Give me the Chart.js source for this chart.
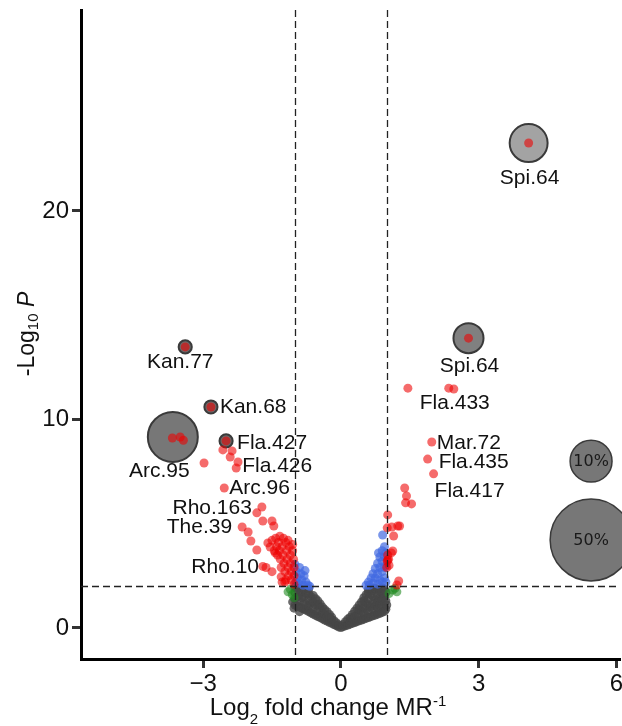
<!DOCTYPE html>
<html>
<head>
<meta charset="utf-8">
<script src="https://cdn.jsdelivr.net/npm/chart.js@4.4.1/dist/chart.umd.min.js"></script>
<style>
  html, body { margin: 0; padding: 0; background: #fff; }
  canvas { display: block; }
</style>
</head>
<body>
<canvas id="volcano" width="622" height="726"></canvas>
<script>
// axis ticks and cut-offs
const xTicks = [-3, 0, 3, 6];
const yTicks = [0, 10, 20];
const fcCut = [-1, 1];
const pCut = 2;

// not significant (grey)
const nsPoints = [
  [-1.02,0.95],[-0.9,0.78],[-1.05,1.25],
  [-1.0,1.1],[-1.0,1.4],[-1.0,1.7],[-1.0,1.95],
  [-0.95,1.05],[-0.95,1.5],[-0.95,1.85],
  [-0.9,1.0],[-0.9,1.3],[-0.9,1.6],[-0.9,1.9],
  [-0.85,0.95],[-0.85,1.45],[-0.85,1.75],
  [-0.8,0.9],[-0.8,1.2],[-0.8,1.5],[-0.8,1.85],
  [-0.75,0.85],[-0.75,1.1],[-0.75,1.65],
  [-0.7,0.78],[-0.7,1.05],[-0.7,1.35],[-0.7,1.65],[-0.7,1.88],
  [-0.65,0.72],[-0.65,1.2],[-0.65,1.5],
  [-0.6,0.66],[-0.6,0.95],[-0.6,1.25],[-0.6,1.55],
  [-0.55,0.6],[-0.55,1.1],[-0.55,1.4],
  [-0.5,0.55],[-0.5,0.85],[-0.5,1.1],[-0.5,1.3],
  [-0.45,0.5],[-0.45,0.95],[-0.45,1.15],
  [-0.4,0.44],[-0.4,0.7],[-0.4,1.0],
  [-0.35,0.38],[-0.35,0.65],[-0.35,0.88],
  [-0.3,0.33],[-0.3,0.55],[-0.3,0.78],
  [-0.25,0.27],[-0.25,0.5],[-0.25,0.65],
  [-0.2,0.22],[-0.2,0.4],[-0.2,0.52],
  [-0.15,0.16],[-0.15,0.35],
  [-0.1,0.11],[-0.1,0.25],
  [-0.05,0.05],[-0.05,0.15],
  [0.0,0.02],
  [0.05,0.06],[0.05,0.17],
  [0.1,0.1],[0.1,0.3],
  [0.15,0.14],[0.15,0.42],
  [0.2,0.18],[0.2,0.35],[0.2,0.5],
  [0.25,0.22],[0.25,0.45],[0.25,0.65],
  [0.3,0.26],[0.3,0.55],[0.3,0.8],
  [0.35,0.3],[0.35,0.62],[0.35,0.95],
  [0.4,0.34],[0.4,0.62],[0.4,0.9],[0.4,1.1],
  [0.45,0.38],[0.45,0.8],[0.45,1.25],
  [0.5,0.42],[0.5,0.7],[0.5,1.0],[0.5,1.3],[0.5,1.45],
  [0.55,0.46],[0.55,0.9],[0.55,1.2],[0.55,1.6],
  [0.6,0.5],[0.6,0.8],[0.6,1.1],[0.6,1.4],[0.6,1.7],[0.6,1.85],
  [0.65,0.54],[0.65,1.0],[0.65,1.6],[0.65,1.92],
  [0.7,0.58],[0.7,0.9],[0.7,1.2],[0.7,1.5],[0.7,1.8],
  [0.75,0.62],[0.75,1.05],[0.75,1.35],[0.75,1.9],
  [0.8,0.66],[0.8,0.95],[0.8,1.25],[0.8,1.55],[0.8,1.85],
  [0.85,0.7],[0.85,1.1],[0.85,1.45],[0.85,1.75],
  [0.9,0.75],[0.9,1.05],[0.9,1.35],[0.9,1.65],[0.9,1.92],
  [0.95,0.8],[0.95,1.2],[0.95,1.55],[0.95,1.85],
  [0.98,0.9],[0.98,1.3],[0.98,1.7],[1.0,1.1]
];

// p-value only (blue)
const pOnlyPoints = [
  [-1.0,3.05],[-0.97,2.7],[-0.95,2.4],[-0.92,2.15],[-0.9,2.9],[-0.87,2.6],
  [-0.85,2.3],[-0.82,2.05],[-0.8,2.5],[-0.76,2.2],[-0.72,2.05],[-0.68,2.0],
  [-0.78,2.75],[-0.98,2.2],
  [0.55,2.05],[0.6,2.2],[0.62,2.05],[0.66,2.4],[0.7,2.6],[0.7,2.15],
  [0.75,2.85],[0.75,2.4],[0.8,3.1],[0.8,2.6],[0.8,2.1],[0.85,3.4],
  [0.85,2.9],[0.85,2.3],[0.9,3.7],[0.9,3.2],[0.9,2.7],[0.9,2.2],
  [0.95,3.9],[0.95,3.4],[0.95,2.9],[0.95,2.4],[0.98,3.6],[0.98,3.0],
  [0.98,2.2],[0.91,4.46],[0.82,3.6]
];

// fold change only (green)
const fcOnlyPoints = [
  [-1.15,1.73],[-1.06,1.6],[-1.1,1.85],[-1.02,1.45],
  [1.13,1.82],[1.22,1.73],[1.18,1.9],[1.05,1.65]
];

// both (red)
const bothPoints = [
  [-3.39,13.48],[-2.83,10.6],[-2.5,8.97],[-3.67,9.11],[-3.5,9.16],[-3.43,9.0],
  [-2.98,7.91],[-2.57,8.54],[-2.37,8.49],[-2.41,8.2],[-2.24,7.96],[-2.28,7.67],
  [-2.54,6.71],[-1.72,5.8],[-1.83,5.52],[-1.70,5.13],[-1.5,5.13],[-1.46,4.89],
  [-2.15,4.84],[-2.02,4.6],[-1.96,4.17],[-1.83,3.74],[-1.59,4.08],[-1.54,3.88],
  [-1.43,3.6],[-1.7,2.95],[-1.63,2.9],[-1.5,2.7],[-1.28,2.2],
  [-1.02,2.1],[-1.02,2.5],[-1.02,2.9],[-1.03,3.3],[-1.05,3.7],[-1.08,2.3],
  [-1.08,2.7],[-1.1,3.1],[-1.1,3.5],[-1.12,3.9],[-1.14,2.5],[-1.15,2.9],
  [-1.17,3.3],[-1.18,3.7],[-1.2,4.1],[-1.2,2.3],[-1.22,2.7],[-1.24,3.1],
  [-1.26,3.5],[-1.28,3.9],[-1.3,2.9],[-1.32,3.3],[-1.34,3.7],[-1.36,4.1],
  [-1.38,3.5],[-1.4,3.9],[-1.05,4.0],[-1.15,4.2],[-1.25,4.3],[-1.3,2.45],
  [-1.22,2.2],[-1.45,3.7],[-1.42,4.3],[-1.33,4.4],[-1.5,4.2],
  [1.46,11.5],[2.35,11.5],[2.46,11.46],[1.98,8.92],[1.89,8.1],[2.02,7.39],
  [1.39,6.71],[1.43,6.33],[1.41,6.0],[1.54,5.95],[1.02,5.42],[1.01,4.8],
  [1.11,4.84],[1.28,4.89],[1.24,4.89],[1.15,4.41],[1.13,3.69],[1.02,3.26],
  [1.26,2.25],[1.22,2.06],[1.0,2.9],[1.01,3.2],[1.02,3.5],[1.05,3.0],
  [1.04,3.3],[1.1,3.6],[2.78,13.9],[4.09,23.26]
];

// relative abundance bubbles (x, y, percent)
const abundance = [
  [4.09,23.26,7.7],[2.78,13.9,4.0],[-3.39,13.48,0.12],
  [-2.83,10.6,0.12],[-2.5,8.97,0.12],[-3.66,9.16,15.6]
];
const legendPct = [10, 50];
const legendAt = [[5.45,8.0],[5.45,4.22]];

// point labels
const labelNames = ['Spi.64','Spi.64','Kan.77','Kan.68','Fla.427','Fla.426','Arc.95',
  'Arc.96','Rho.163','The.39','Rho.10','Fla.433','Mar.72','Fla.435','Fla.417'];
const labelAt = [[4.09,23.26],[2.78,13.9],[-3.39,13.48],[-2.83,10.6],[-2.5,8.97],
  [-2.28,7.67],[-3.67,9.11],[-2.54,6.71],[-1.72,5.8],[-2.15,4.84],[-1.63,2.9],
  [2.35,11.5],[1.98,8.92],[1.89,8.1],[2.02,7.39]];

// --- drawing ---
const FONT = '"Liberation Sans", Arial, sans-serif';
const radius = p => 4.8 + 5.11 * Math.sqrt(p);
const toXY = arr => arr.map(d => ({ x: d[0], y: d[1] }));

// dx, dy (px) and alignment for each label
const labelPlace = [
  [1,35,'center'],[1,28,'center'],[-5,15,'center'],[9,0,'left'],[11,2,'left'],
  [6,-2,'left'],[-13,33,'center'],[5,0,'left'],[-10,1,'right'],[-10,0,'right'],
  [-7,0,'right'],[6,15,'center'],[5,1,'left'],[11,3,'left'],[1,17,'left']
];
const bubbleFill = ['#a3a3a3','#808080','#6a6a6a','#6a6a6a','#6a6a6a','#777777'];

const cutLines = {
  id: 'cutLines',
  afterDatasetsDraw(chart) {
    const { ctx, chartArea: a, scales: { x, y } } = chart;
    ctx.save();
    ctx.strokeStyle = '#222';
    ctx.lineWidth = 1.3;
    ctx.setLineDash([7, 4]);
    fcCut.forEach(v => {
      const px = Math.round(x.getPixelForValue(v)) + 0.5;
      ctx.beginPath(); ctx.moveTo(px, a.top); ctx.lineTo(px, a.bottom); ctx.stroke();
    });
    const py = Math.round(y.getPixelForValue(pCut)) + 0.5;
    ctx.beginPath(); ctx.moveTo(a.left, py); ctx.lineTo(a.right, py); ctx.stroke();
    ctx.restore();
  }
};

function drawRuns(ctx, runs, x, y) {
  runs.forEach(r => {
    ctx.font = (r.italic ? 'italic ' : '') + r.size + 'px ' + FONT;
    ctx.fillText(r.t, x, y + (r.dy || 0));
    x += ctx.measureText(r.t).width;
  });
}
function runsWidth(ctx, runs) {
  let w = 0;
  runs.forEach(r => {
    ctx.font = (r.italic ? 'italic ' : '') + r.size + 'px ' + FONT;
    w += ctx.measureText(r.t).width;
  });
  return w;
}

const textLayer = {
  id: 'textLayer',
  afterDraw(chart) {
    const { ctx, scales: { x, y } } = chart;
    ctx.save();
    ctx.fillStyle = '#111';
    ctx.textBaseline = 'middle';
    ctx.font = '21px ' + FONT;
    labelNames.forEach((name, i) => {
      const [dx, dy, align] = labelPlace[i];
      ctx.textAlign = align;
      ctx.fillText(name, x.getPixelForValue(labelAt[i][0]) + dx, y.getPixelForValue(labelAt[i][1]) + dy);
    });
    // legend bubble text
    ctx.textAlign = 'center';
    ctx.fillStyle = '#1a1a1a';
    ctx.font = '16px "DejaVu Sans", sans-serif';
    legendPct.forEach((p, i) => {
      ctx.fillText(p + '%', x.getPixelForValue(legendAt[i][0]), y.getPixelForValue(legendAt[i][1]) + 1);
    });

    // axis titles
    ctx.textAlign = 'left';
    ctx.textBaseline = 'alphabetic';
    ctx.fillStyle = '#111';
    const xt = [
      { t: 'Log', size: 24 }, { t: '2', size: 15, dy: 9 },
      { t: ' fold change MR', size: 24 }, { t: '-1', size: 15, dy: -9 }
    ];
    drawRuns(ctx, xt, 328 - runsWidth(ctx, xt) / 2, 715);

    const yt = [
      { t: '-Log', size: 23 }, { t: '10', size: 15, dy: 4 },
      { t: ' ', size: 23 }, { t: 'P', size: 23, italic: true }
    ];
    ctx.translate(34, 334);
    ctx.rotate(-Math.PI / 2);
    drawRuns(ctx, yt, -runsWidth(ctx, yt) / 2, 0);
    ctx.restore();
  }
};

const ptStyle = (data, color, order) => ({
  data: toXY(data),
  backgroundColor: color,
  borderWidth: 0,
  pointRadius: 4.5,
  pointHoverRadius: 4.5,
  order: order
});

const ctx = document.getElementById('volcano').getContext('2d');
new Chart(ctx, {
  type: 'scatter',
  data: {
    datasets: [
      ptStyle(bothPoints, 'rgba(238,0,0,0.58)', 1),
      ptStyle(pOnlyPoints, 'rgba(65,105,225,0.7)', 2),
      ptStyle(fcOnlyPoints, 'rgba(34,139,34,0.6)', 3),
      ptStyle(nsPoints, 'rgba(70,70,70,0.8)', 4),
      {
        type: 'bubble',
        data: abundance.map(d => ({ x: d[0], y: d[1], r: radius(d[2]) })),
        backgroundColor: bubbleFill,
        borderColor: '#3a3a3a',
        borderWidth: 2,
        order: 5
      },
      {
        type: 'bubble',
        data: legendPct.map((p, i) => ({ x: legendAt[i][0], y: legendAt[i][1], r: radius(p) })),
        backgroundColor: '#777777',
        borderColor: '#3a3a3a',
        borderWidth: 1.5,
        clip: false,
        order: 6
      }
    ]
  },
  options: {
    responsive: false,
    animation: false,
    events: [],
    layout: { autoPadding: false, padding: { top: 10, right: 2, left: 0, bottom: 0 } },
    plugins: { legend: { display: false }, tooltip: { enabled: false } },
    scales: {
      x: {
        type: 'linear',
        min: -5.66,
        max: 6.08,
        afterBuildTicks: s => { s.ticks = xTicks.map(v => ({ value: v })); },
        afterFit: s => { s.height = 67; s.paddingLeft = 0; s.paddingRight = 0; },
        grid: { drawOnChartArea: false, drawTicks: true, tickLength: 9, tickWidth: 3, tickColor: '#333' },
        border: { display: true, color: '#000', width: 3 },
        ticks: {
          padding: 2,
          color: '#111',
          font: { size: 24, family: FONT },
          callback: v => (v < 0 ? '\u2212' + Math.abs(v) : '' + v)
        }
      },
      y: {
        type: 'linear',
        min: -1.49,
        max: 29.64,
        afterBuildTicks: s => { s.ticks = yTicks.map(v => ({ value: v })); },
        afterFit: s => { s.width = 81; s.paddingTop = 0; s.paddingBottom = 0; },
        grid: { drawOnChartArea: false, drawTicks: true, tickLength: 9, tickWidth: 3, tickColor: '#333' },
        border: { display: true, color: '#000', width: 3 },
        ticks: {
          padding: 3,
          color: '#111',
          font: { size: 24, family: FONT }
        }
      }
    }
  },
  plugins: [cutLines, textLayer]
});
</script>
</body>
</html>
